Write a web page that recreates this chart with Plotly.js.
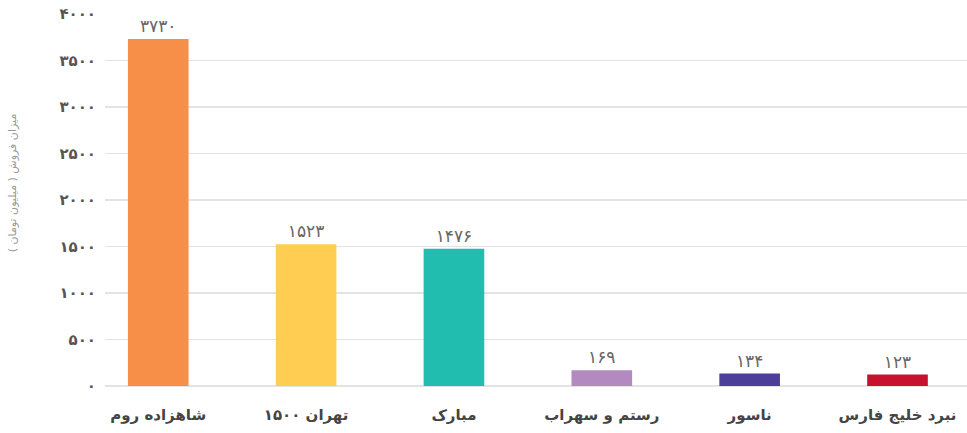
<!DOCTYPE html>
<html>
<head>
<meta charset="utf-8">
<script src="https://cdn.plot.ly/plotly-3.0.1.min.js"></script>
<style>html,body{margin:0;padding:0;background:#fff;}#chart{width:967px;height:433px;}</style>
</head>
<body>
<div id="chart"></div>
<script>
const categories = ["شاهزاده روم", "تهران ۱۵۰۰", "مبارک", "رستم و سهراب", "ناسور", "نبرد خلیج فارس"];
const sales = [3730, 1523, 1476, 169, 134, 123];
const barColors = ["#F78F48", "#FFCD52", "#21BDAE", "#B38ABF", "#4B3F99", "#C7112F"];
const yTickVals = [0, 500, 1000, 1500, 2000, 2500, 3000, 3500, 4000];
const yTickText = ["۰", "۵۰۰", "۱۰۰۰", "۱۵۰۰", "۲۰۰۰", "۲۵۰۰", "۳۰۰۰", "۳۵۰۰", "۴۰۰۰"];
const yTitle = "میزان فروش ( میلیون تومان )";

function toPersian(n) {
  const d = "۰۱۲۳۴۵۶۷۸۹";
  return String(n).replace(/[0-9]/g, c => d[+c]);
}

const trace = {
  type: "bar",
  x: categories,
  y: sales,
  width: 0.41,
  marker: {color: barColors},
  text: sales.map(toPersian),
  textposition: "outside",
  cliponaxis: false,
  textfont: {family: "DejaVu Sans", size: 17, color: "#666"},
  hoverinfo: "none"
};

const layout = {
  width: 967, height: 433,
  margin: {l: 105, r: 0, t: 14, b: 47},
  paper_bgcolor: "#fff", plot_bgcolor: "#fff",
  showlegend: false,
  bargap: 0.6,
  xaxis: {
    type: "category",
    range: [-0.36, 5.47],
    showgrid: false, zeroline: false, showline: false,
    ticks: "",
    ticklabelstandoff: 18,
    tickfont: {family: "DejaVu Sans", size: 15, color: "#444", weight: "bold"}
  },
  yaxis: {
    range: [0, 4000],
    tickvals: yTickVals,
    ticktext: yTickText,
    showgrid: true, gridcolor: "#E3E3E3", gridwidth: 1.5,
    zeroline: true, zerolinecolor: "#E3E3E3", zerolinewidth: 1.5,
    showline: false, ticks: "",
    ticklabelstandoff: 8,
    tickfont: {family: "DejaVu Sans", size: 15, color: "#555", weight: "bold"}
  },
  annotations: [{
    text: yTitle,
    xref: "paper", yref: "paper",
    x: -93 / 862, y: 0.545,
    xanchor: "center", yanchor: "middle",
    textangle: -90,
    showarrow: false,
    font: {family: "DejaVu Sans", size: 11, color: "#999"}
  }]
};

Plotly.newPlot("chart", [trace], layout, {staticPlot: true, displayModeBar: false});
</script>
</body>
</html>
